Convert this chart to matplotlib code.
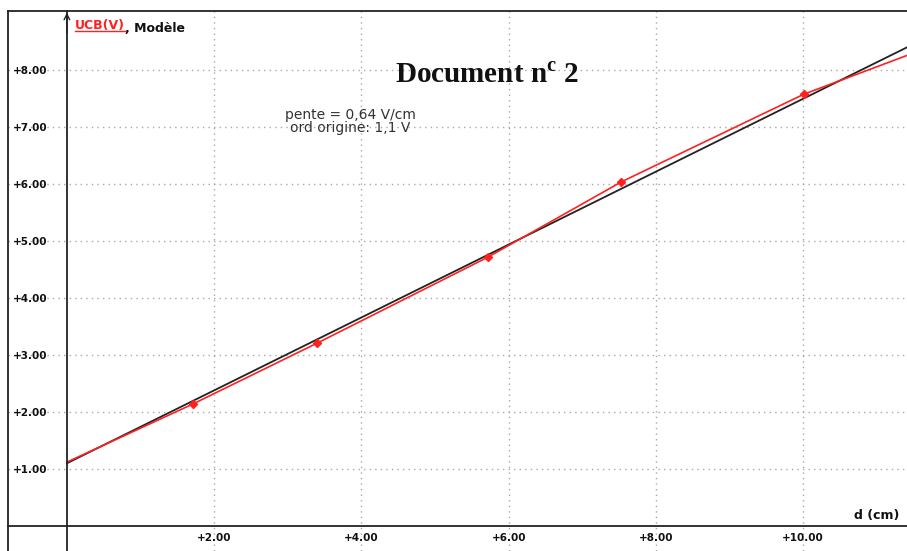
import matplotlib
matplotlib.use("Agg")
import matplotlib.pyplot as plt
from matplotlib.lines import Line2D

# mesures (d en cm, UCB en V)
d_mes = [0.0, 1.71, 3.40, 5.72, 7.53, 10.01, 11.41]
u_mes = [1.12, 2.14, 3.21, 4.72, 6.04, 7.58, 8.26]

# modele lineaire
pente = 0.64
ord_origine = 1.1
d_mod = [0.0, 11.41]

x_ticks = [2, 4, 6, 8, 10]
y_ticks = [1, 2, 3, 4, 5, 6, 7, 8]

fig = plt.figure(figsize=(9.07, 5.51), dpi=100)
ax = fig.add_axes([8 / 907, 0, 899 / 907, 540 / 551])
ax.set_xlim(-0.80, 11.41)
ax.set_ylim(-0.44, 9.04)

# axes au zero
ax.spines["left"].set_position(("data", 0))
ax.spines["bottom"].set_position(("data", 0))
ax.spines["right"].set_visible(False)
for s in ["left", "bottom", "top"]:
    ax.spines[s].set_color("#222222")
    ax.spines[s].set_linewidth(1.3)
# cadre a gauche
ax.plot([0, 0], [0, 1], transform=ax.transAxes, color="#222222", lw=1.3, clip_on=False)

ax.set_xticks(x_ticks)
ax.set_yticks(y_ticks)
ax.set_xticklabels([f"+{v:.2f}" for v in x_ticks], fontweight="bold", fontsize=7.5)
ax.set_yticklabels([f"+{v:.2f}" for v in y_ticks], fontweight="bold", fontsize=7.5)
ax.tick_params(axis="x", length=0, pad=5, colors="#111111")
ax.tick_params(axis="y", length=0, pad=14, colors="#111111")
ax.grid(True, color="#a8a8a8", linestyle=(0, (1, 3)), linewidth=1)

# fleche de l'axe vertical
ax.annotate("", xy=(0, 9.06), xytext=(0, 8.6),
            arrowprops=dict(arrowstyle="->", color="#222222", lw=1.0), annotation_clip=False)

# courbes
u_mod = [pente * d + ord_origine for d in d_mod]
ax.plot(d_mod, u_mod, color="#222222", lw=1.3)
ax.plot(d_mes, u_mes, color="#ff2020", lw=1.2, marker="D", markersize=4,
        markevery=[1, 2, 3, 4, 5])

# textes
t1 = ax.text(0.11, 8.79, "UCB(V)", color="#ff2020", fontsize=9, fontweight="bold", va="center")
fig.canvas.draw()
bb = t1.get_window_extent()
ax.text(bb.x1, bb.y0, ", Modèle", transform=None, color="#111111", fontsize=9,
        fontweight="bold", va="baseline")
fig.add_artist(Line2D([bb.x0 / fig.bbox.width, bb.x1 / fig.bbox.width],
                      [(bb.y0 + 1) / fig.bbox.height] * 2, color="#ff2020", lw=1))

ax.text(5.71, 7.91, "Document n$^\\mathregular{c}$ 2", family="Liberation Serif",
        fontweight="bold", fontsize=21, ha="center", va="center", color="#111111")
ax.text(3.85, 7.1, "pente = 0,64 V/cm\nord origine: 1,1 V", fontsize=10, ha="center",
        va="center", color="#333333", linespacing=0.95)
ax.text(11.3, 0.18, "d (cm)", fontsize=9, fontweight="bold", ha="right", va="center",
        color="#111111")

fig.savefig("out.png", dpi=100)
